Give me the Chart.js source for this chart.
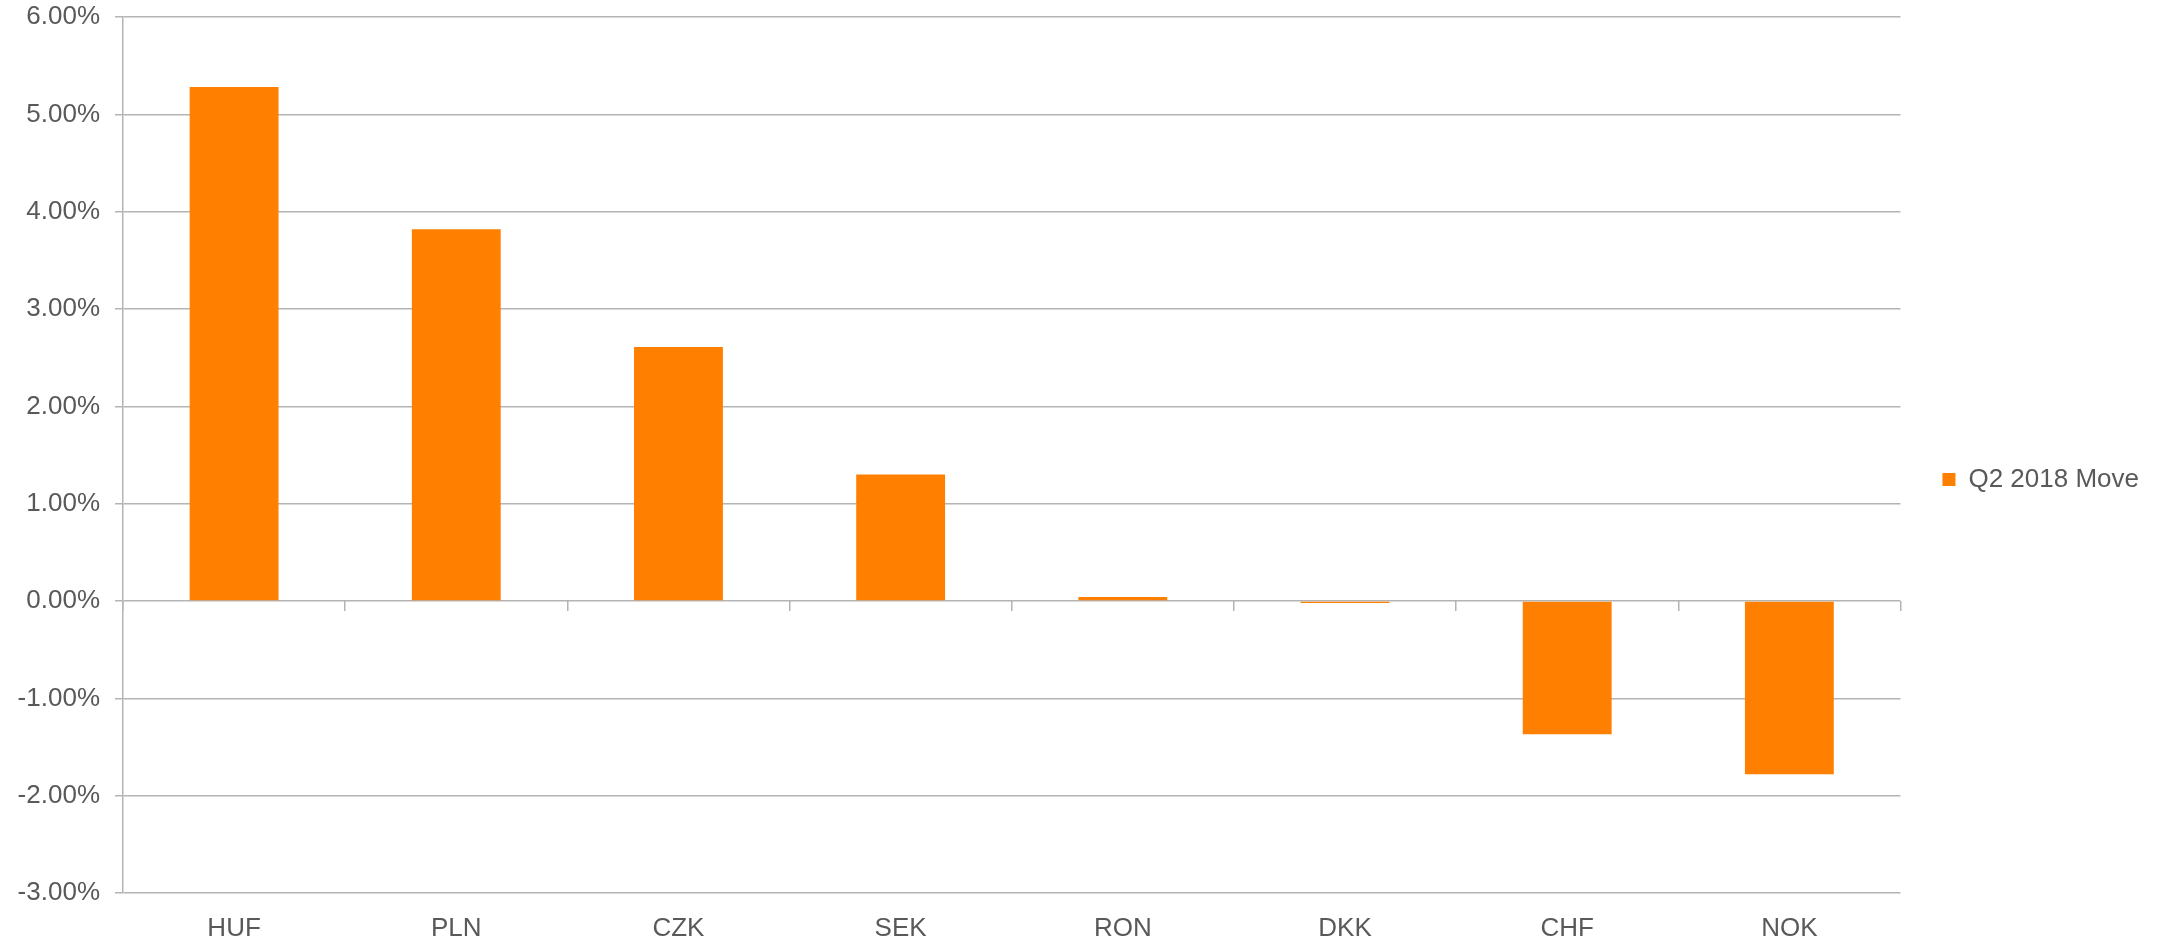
<!DOCTYPE html>
<html>
<head>
<meta charset="utf-8">
<script src="https://cdn.jsdelivr.net/npm/chart.js@4"></script>
<style>
    html, body { margin: 0; padding: 0; background: #ffffff; }
    #wrap { width: 2160px; height: 942px; position: relative; }
</style>
</head>
<body>
<div id="wrap"><canvas id="moveChart"></canvas></div>
<script>
// --- chart data ---
const currencies = ['HUF', 'PLN', 'CZK', 'SEK', 'RON', 'DKK', 'CHF', 'NOK'];
const q2Move = [5.28, 3.82, 2.61, 1.30, 0.04, -0.02, -1.37, -1.78];
const seriesName = 'Q2 2018 Move';
const yMin = -3;
const yMax = 6;
const yStep = 1;

const textColor = '#595959';
const lineColor = '#b4b4b4';
const fontFamily = '"Liberation Sans", Arial, sans-serif';

const ctx = document.getElementById('moveChart').getContext('2d');

new Chart(ctx, {
    type: 'bar',
    data: {
        labels: currencies,
        datasets: [
            {
                label: seriesName,
                data: q2Move,
                backgroundColor: '#ff8000',
                borderWidth: 0,
                barPercentage: 0.4,
                categoryPercentage: 1.0
            }
        ]
    },
    options: {
        responsive: true,
        maintainAspectRatio: false,
        animation: false,
        layout: { padding: { top: 17, left: 0, bottom: 0, right: 11 } },
        plugins: {
            tooltip: { enabled: false },
            legend: {
                position: 'right',
                labels: {
                    color: textColor,
                    font: { family: fontFamily, size: 26 },
                    boxWidth: 13,
                    boxHeight: 13,
                    padding: 42
                }
            }
        },
        scales: {
            x: {
                position: 'bottom',
                grid: { display: false },
                border: { display: false },
                ticks: {
                    color: textColor,
                    font: { family: fontFamily, size: 26 },
                    padding: 12,
                    maxRotation: 0
                },
                afterFit: (scale) => { scale.height = 49; }
            },
            // tick marks along the zero line
            x2: {
                type: 'category',
                position: { y: 0 },
                grid: {
                    display: true,
                    drawOnChartArea: false,
                    drawTicks: true,
                    tickLength: 10,
                    color: lineColor,
                    lineWidth: 1.5
                },
                border: { display: false },
                ticks: { display: false },
                afterFit: (scale) => { scale.height = 0; }
            },
            y: {
                min: yMin,
                max: yMax,
                ticks: {
                    stepSize: yStep,
                    color: textColor,
                    font: { family: fontFamily, size: 26 },
                    padding: 15,
                    callback: (v) => v.toFixed(2) + '%'
                },
                grid: {
                    color: lineColor,
                    lineWidth: 1.5,
                    tickLength: 8
                },
                border: { display: true, color: lineColor, width: 1.5 },
                afterFit: (scale) => {
                    // fixed axis width, and no extra room above the top label
                    scale.width = 123;
                    scale.paddingTop = 0;
                    scale.paddingBottom = 0;
                }
            }
        }
    }
});
</script>
</body>
</html>
